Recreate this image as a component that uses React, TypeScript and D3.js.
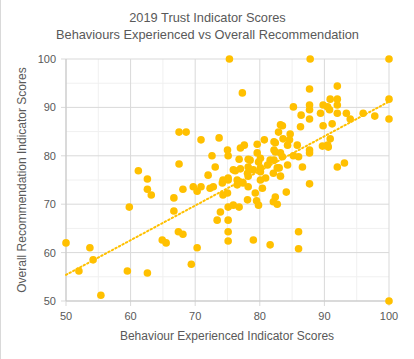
import React from "react";
import * as d3 from "d3";

const behaviourScores: number[] = [
  75.3, 87.8, 100, 77.3, 67.5, 68.6, 70.9, 73.7, 67.5, 72.6, 73.1, 72.0, 75.0, 75.1, 77.0, 77.6, 76.8, 79.6, 80.7, 82.4,
  82.9, 79.6, 78.2, 80.1, 81.6, 82.4, 78.2, 80.1, 81.2, 82.1, 76.2, 77.0, 75.1, 92.0, 87.7, 90.9, 92.0, 100, 87.7, 87.7,
  89.8, 90.5, 90.8, 92.0, 92.0, 93.4, 89.4, 85.2, 86.4, 87.7, 94.0, 96.0, 97.8, 100, 86.3, 89.8, 91.2, 83.5, 84.7, 84.6,
  83.6, 82.2, 85.8, 90.9, 90.5, 89.7, 90.6, 87.7, 87.7, 82.2, 83.2, 83.5, 85.2, 86.0, 82.2, 92.0, 93.1, 86.6, 84.3, 83.0,
  83.2, 87.7, 84.1, 82.4, 82.1, 82.7, 86.0, 86.0, 81.6, 100, 68.1, 66.7, 69.7, 70.3, 70.9, 72.3, 72.8, 74.2, 75.1, 74.3,
  75.0, 76.5, 77.0, 78.2, 75.9, 75.1, 76.8, 78.1, 79.5, 79.8, 79.3, 80.4, 80.1, 78.2, 73.9, 73.4, 75.1, 75.1, 75.1, 79.0,
  66.7, 67.4, 68.1, 64.9, 65.5, 70.3, 69.4, 61.2, 62.6, 62.6, 63.2, 59.8, 50.0, 53.7, 54.2, 52.0, 59.5, 62.6, 55.4, 83.2,
  78.5, 79.8, 82.7, 75.9, 78.1, 79.0, 80.1, 76.5, 74.3, 77.4, 80.9, 84.3,
];

const recommendationScores: number[] = [
  100, 100, 100, 93.0, 84.9, 84.9, 83.3, 83.7, 78.3, 80.0, 77.7, 76.0, 81.2, 80.0, 81.6, 82.2, 79.3, 82.4, 83.3, 82.7,
  84.9, 80.6, 79.3, 79.5, 79.1, 80.8, 77.7, 77.5, 78.1, 76.4, 76.9, 77.3, 75.4, 94.4, 93.8, 91.7, 91.7, 91.7, 90.5, 89.5,
  90.5, 90.1, 89.5, 90.5, 88.8, 88.8, 88.8, 90.1, 88.4, 87.6, 87.6, 88.8, 88.2, 87.6, 86.0, 86.2, 86.6, 86.2, 84.5, 83.3,
  83.5, 82.9, 82.2, 83.5, 82.2, 82.0, 81.8, 81.2, 80.6, 81.2, 80.6, 79.8, 80.0, 79.8, 79.1, 77.7, 78.5, 77.7, 78.1, 77.5,
  75.8, 74.2, 72.5, 71.5, 70.5, 70.0, 64.3, 60.8, 61.6, 50.0, 73.1, 71.3, 73.6, 72.7, 73.6, 73.3, 73.6, 74.4, 75.0, 71.9,
  72.3, 74.0, 74.6, 73.6, 69.8, 69.4, 69.4, 70.9, 70.7, 69.8, 72.3, 73.3, 75.0, 75.8, 68.4, 66.7, 66.7, 64.3, 62.4, 62.6,
  68.6, 64.3, 63.8, 62.6, 62.0, 61.0, 57.6, 76.9, 75.2, 73.1, 71.9, 69.4, 62.0, 61.0, 58.5, 56.2, 56.2, 55.8, 51.2, 86.4,
  79.1, 78.7, 77.5, 77.1, 76.4, 77.1, 76.7, 75.0, 75.0, 74.4, 75.4, 82.2,
];

// Linear trendline as shown in the chart: y = slope * x + intercept
const trendSlope = 0.716;
const trendIntercept = 19.6;

const xTicks: number[] = [50, 60, 70, 80, 90, 100];
const yTicks: number[] = [50, 60, 70, 80, 90, 100];
const xMinor: number[] = [55, 65, 75, 85, 95];
const yMinor: number[] = [55, 65, 75, 85, 95];

const titleLines: string[] = [
  "2019 Trust Indicator Scores",
  "Behaviours Experienced vs Overall Recommendation",
];
const xTitle = "Behaviour Experienced Indicator Scores";
const yTitle = "Overall Recommendation Indicator Scores";

export default function App() {
  const W = 414;
  const H = 359;
  const left = 66;
  const right = 389;
  const top = 59;
  const bottom = 301;
  const x = d3.scaleLinear().domain([50, 100]).range([left, right]);
  const y = d3.scaleLinear().domain([50, 100]).range([bottom, top]);

  const pts = behaviourScores.map((b, i) => ({ b, r: recommendationScores[i] }));
  const xExt = d3.extent(behaviourScores) as [number, number];
  const trend = d3
    .line<number>()
    .x((v) => x(v))
    .y((v) => y(trendIntercept + trendSlope * v))(xExt);

  const font = "'Liberation Sans', Arial, sans-serif";
  const textColor = "#595959";
  const gold = "#FFC000";

  return (
    <svg
      width={W}
      height={H}
      style={{ position: "absolute", left: 0, top: 0, background: "#fff" }}
      fontFamily={font}
    >
      <rect x={0} y={0} width={W} height={H} fill="#fff" />
      <line x1={0.5} x2={0.5} y1={0} y2={H} stroke="#d9d9d9" />
      {titleLines.map((t, i) => (
        <text key={t} x={207.5} y={22 + i * 17} textAnchor="middle" fontSize={12.8} fill={textColor}>
          {t}
        </text>
      ))}
      {xMinor.map((v) => (
        <line key={"xm" + v} x1={x(v)} x2={x(v)} y1={top} y2={bottom} stroke="#f0f0f0" strokeWidth={1} />
      ))}
      {yMinor.map((v) => (
        <line key={"ym" + v} x1={left} x2={right} y1={y(v)} y2={y(v)} stroke="#f0f0f0" strokeWidth={1} />
      ))}
      {xTicks.map((v) => (
        <g key={"xt" + v}>
          <line x1={x(v)} x2={x(v)} y1={top} y2={bottom + 5} stroke="#d9d9d9" strokeWidth={1} />
          <text x={x(v)} y={320} textAnchor="middle" fontSize={11} fill={textColor}>
            {v}
          </text>
        </g>
      ))}
      {yTicks.map((v) => (
        <g key={"yt" + v}>
          <line x1={left - 5} x2={right} y1={y(v)} y2={y(v)} stroke="#d9d9d9" strokeWidth={1} />
          <text x={56} y={y(v) + 4} textAnchor="end" fontSize={11} fill={textColor}>
            {v}
          </text>
        </g>
      ))}
      <line x1={left} x2={left} y1={top} y2={bottom} stroke="#c8c8c8" />
      <line x1={left} x2={right} y1={bottom} y2={bottom} stroke="#c8c8c8" />
      {pts.map((p, i) => (
        <circle key={i} cx={x(p.b)} cy={y(p.r)} r={3.8} fill={gold} />
      ))}
      <path d={trend ?? ""} fill="none" stroke={gold} strokeWidth={2} strokeDasharray="1.5 2.5" strokeLinecap="round" />
      <text x={227} y={340} textAnchor="middle" fontSize={12} fill={textColor}>
        {xTitle}
      </text>
      <text
        transform={`translate(26, ${(top + bottom) / 2}) rotate(-90)`}
        textAnchor="middle"
        fontSize={12}
        fill={textColor}
      >
        {yTitle}
      </text>
    </svg>
  );
}
